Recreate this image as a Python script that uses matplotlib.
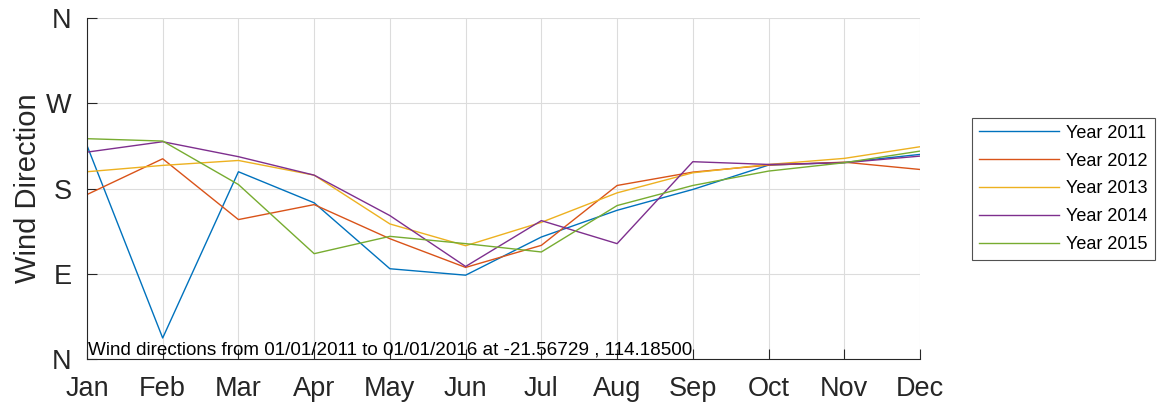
import matplotlib.pyplot as plt

plt.rcParams['font.family'] = ['Liberation Sans', 'DejaVu Sans']

months = ['Jan', 'Feb', 'Mar', 'Apr', 'May', 'Jun', 'Jul', 'Aug', 'Sep', 'Oct', 'Nov', 'Dec']
dir_ticks = [0, 90, 180, 270, 360]
dir_labels = ['N', 'E', 'S', 'W', 'N']

# monthly mean wind direction (degrees)
y2011 = [225.5, 22.2, 197.7, 164.9, 95.3, 88.5, 128.8, 157.0, 179.0, 204.7, 207.5, 216.0]
y2012 = [173.6, 211.4, 147.2, 163.0, 127.0, 96.7, 120.0, 183.2, 197.3, 204.7, 207.8, 200.1]
y2013 = [197.7, 204.4, 209.6, 194.1, 142.6, 119.6, 144.3, 175.4, 196.6, 205.4, 211.8, 224.1]
y2014 = [218.4, 229.4, 213.6, 194.1, 151.4, 97.7, 146.1, 121.8, 208.3, 205.4, 207.2, 214.2]
y2015 = [232.6, 230.1, 184.2, 111.2, 129.5, 121.8, 113.0, 162.0, 183.2, 198.4, 207.2, 219.5]
years = ['Year 2011', 'Year 2012', 'Year 2013', 'Year 2014', 'Year 2015']
colors = ['#0072BD', '#D95319', '#EDB120', '#7E2F8E', '#77AC30']

fig = plt.figure(figsize=(11.64, 4.09), dpi=100)
ax = fig.add_axes([0.0747, 0.1222, 0.7157, 0.8338])

x = range(len(months))
for vals, name, c in zip([y2011, y2012, y2013, y2014, y2015], years, colors):
    ax.plot(x, vals, color=c, lw=1.0, label=name)

ax.set_xlim(0, len(months) - 1)
ax.set_ylim(0, 360)
ax.set_xticks(list(x))
ax.set_xticklabels(months)
ax.set_yticks(dir_ticks)
ax.set_yticklabels(dir_labels)
ax.grid(True, color='#dcdcdc', lw=0.8)
ax.set_axisbelow(True)
for s in ['top', 'right']:
    ax.spines[s].set_visible(False)
for s in ['left', 'bottom']:
    ax.spines[s].set_color('#262626')
ax.tick_params(direction='in', length=7, labelsize=19.5, colors='#262626')
ax.tick_params(axis='x', pad=12)
ax.tick_params(axis='y', pad=11)
ax.set_ylabel('Wind Direction', fontsize=21, color='#262626', labelpad=3)

ax.text(0.02, 1, 'Wind directions from 01/01/2011 to 01/01/2016 at -21.56729 , 114.18500',
        fontsize=13.6, color='black', va='bottom', ha='left')

leg = fig.legend(loc='center left', bbox_to_anchor=(0.835, 0.538), fontsize=13,
                 fancybox=False, edgecolor='#262626', handlelength=4.4,
                 handletextpad=0.4, borderaxespad=0, labelspacing=0.6, borderpad=0.4)
leg.get_frame().set_linewidth(0.8)

fig.savefig('out.png', dpi=100)
